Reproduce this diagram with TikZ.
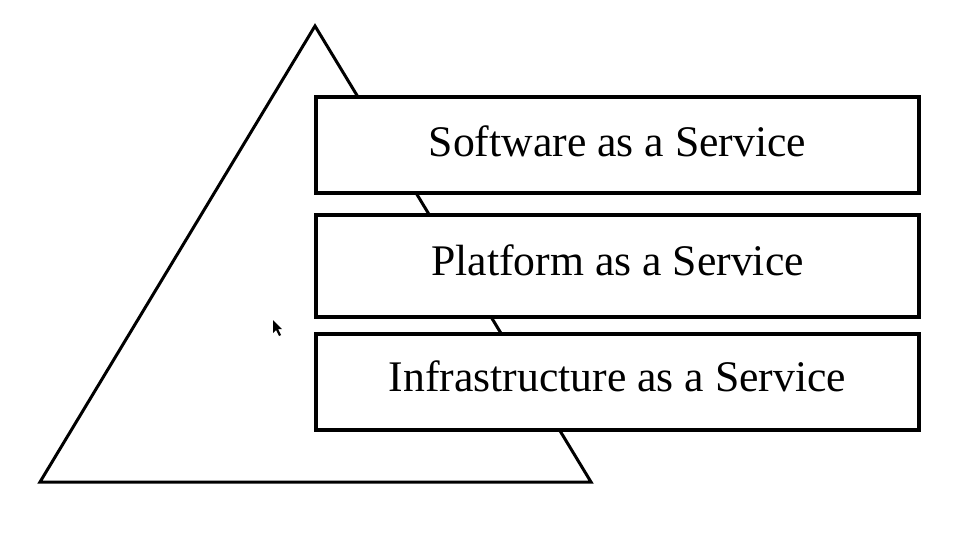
\documentclass[tikz,border=0pt]{standalone}
\usepackage{fontspec}
\setmainfont{Liberation Serif}
\begin{document}
\begin{tikzpicture}[x=1pt,y=-1pt,
  layerbox/.style={draw=black, line width=4pt, fill=white, minimum width=603pt, inner sep=0pt, outer sep=0pt},
  layertext/.style={anchor=base, inner sep=0pt, font=\fontsize{43.7}{50}\selectfont}
]
\useasboundingbox (0,0) rectangle (964,536);
% pyramid
\draw[line width=3pt, line join=miter] (315,26) coordinate (apex) -- (591,482) coordinate (br) -- (40,482) coordinate (bl) -- cycle;
% boxes
\node[layerbox, minimum height=96pt] (saas) at (617.5,145) {};
\node[layerbox, minimum height=102pt] (paas) at (617.5,266) {};
\node[layerbox, minimum height=96pt] (iaas) at (617.5,382) {};
\node[layertext] (saast) at (617.5,156) {Software as a Service};
\node[layertext] (paast) at (617.5,275) {Platform as a Service};
\node[layertext] (iaast) at (617.5,391) {Infrastructure as a Service};
% mouse cursor
\fill[black] (273,320) -- (273,333) -- (276,330) -- (279,336) -- (281,335) -- (278,329) -- (282,329) -- cycle;
\end{tikzpicture}
\end{document}
